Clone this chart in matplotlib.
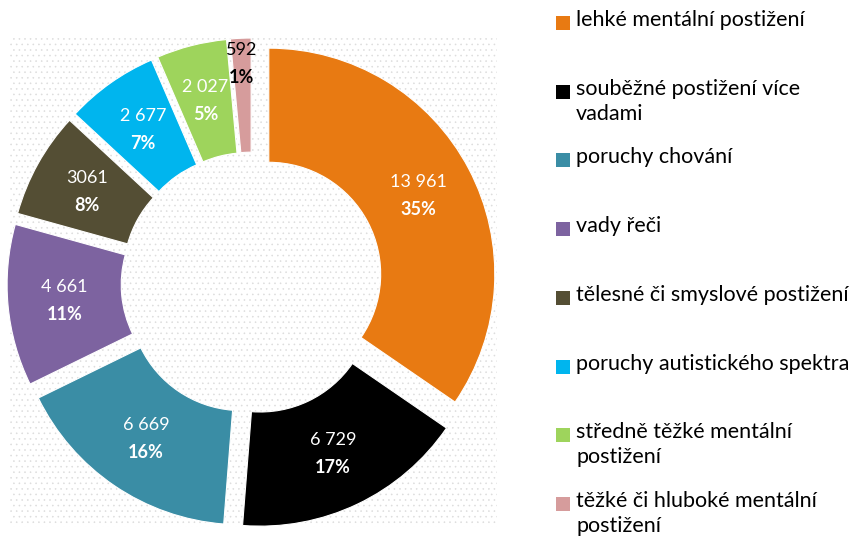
import matplotlib
matplotlib.use("Agg")
from matplotlib import pyplot as plt
from matplotlib.patches import Rectangle
import numpy as np

plt.rcParams['font.family'] = ['Lato', 'DejaVu Sans']
plt.rcParams['hatch.linewidth'] = 0.4

kategorie = ["lehké mentální postižení",
             "souběžné postižení více\nvadami",
             "poruchy chování",
             "vady řeči",
             "tělesné či smyslové postižení",
             "poruchy autistického spektra",
             "středně těžké mentální\npostižení",
             "těžké či hluboké mentální\npostižení"]
hodnoty = [13961, 6729, 6669, 4661, 3061, 2677, 2027, 592]
popisky = ["13 961", "6 729", "6 669", "4 661", "3061", "2 677", "2 027", "592"]
procenta = [35, 17, 16, 11, 8, 7, 5, 1]
barvy = ["#E87A12", "#000000", "#3A8DA5", "#7D63A0", "#544E34",
         "#00B5EE", "#9ED45C", "#D69C9C"]
barvy_textu = ["white"] * 7 + ["black"]

W, H = 857, 540
fig = plt.figure(figsize=(W / 100, H / 100), dpi=100)

# teckovane pozadi grafu (samostatne osy vzadu)
bg = fig.add_axes([10 / W, 1 - 527 / H, 487 / W, 489 / H], zorder=0)
bg.add_patch(Rectangle((0, 0), 1, 1, transform=bg.transAxes, facecolor="white",
                       edgecolor="#dcdcdc", hatch="...", linewidth=0))
bg.axis("off")

# osy pro kolac, stred (252, 283), polomer 226 px
R = 226
cx, cy = 252, H - 283
L = 1.15
ax = fig.add_axes([(cx - L * R) / W, (cy - L * R) / H, 2 * L * R / W, 2 * L * R / H],
                  zorder=2)
ax.patch.set_alpha(0)

wedges, _ = ax.pie(hodnoty, colors=barvy, startangle=90, counterclock=False,
                   explode=[0.084] * len(hodnoty), radius=1,
                   wedgeprops=dict(width=0.505, edgecolor="white", linewidth=0.8))
ax.set_xlim(-L, L)
ax.set_ylim(-L, L)
ax.set_aspect("equal")
ax.axis("off")

for i, w in enumerate(wedges):
    th = np.deg2rad((w.theta1 + w.theta2) / 2)
    r = 0.89 if i == len(wedges) - 1 else 0.75
    x = w.center[0] + r * np.cos(th)
    y = w.center[1] + r * np.sin(th)
    ax.text(x, y + 0.06, popisky[i], ha="center", va="center", fontsize=13,
            color=barvy_textu[i])
    ax.text(x, y - 0.062, f"{procenta[i]}%", ha="center", va="center", fontsize=13,
            fontweight="bold", color=barvy_textu[i])

# legenda
for i, k in enumerate(kategorie):
    top = 14 + i * 68.7
    fig.patches.append(Rectangle((556 / W, 1 - (top + 16) / H), 14 / W, 14 / H,
                                 transform=fig.transFigure, facecolor=barvy[i],
                                 edgecolor="none"))
    fig.text(576 / W, 1 - (top - 4) / H, k, ha="left", va="top", fontsize=15.5,
             linespacing=1.3)

fig.savefig("out.png", dpi=100)
